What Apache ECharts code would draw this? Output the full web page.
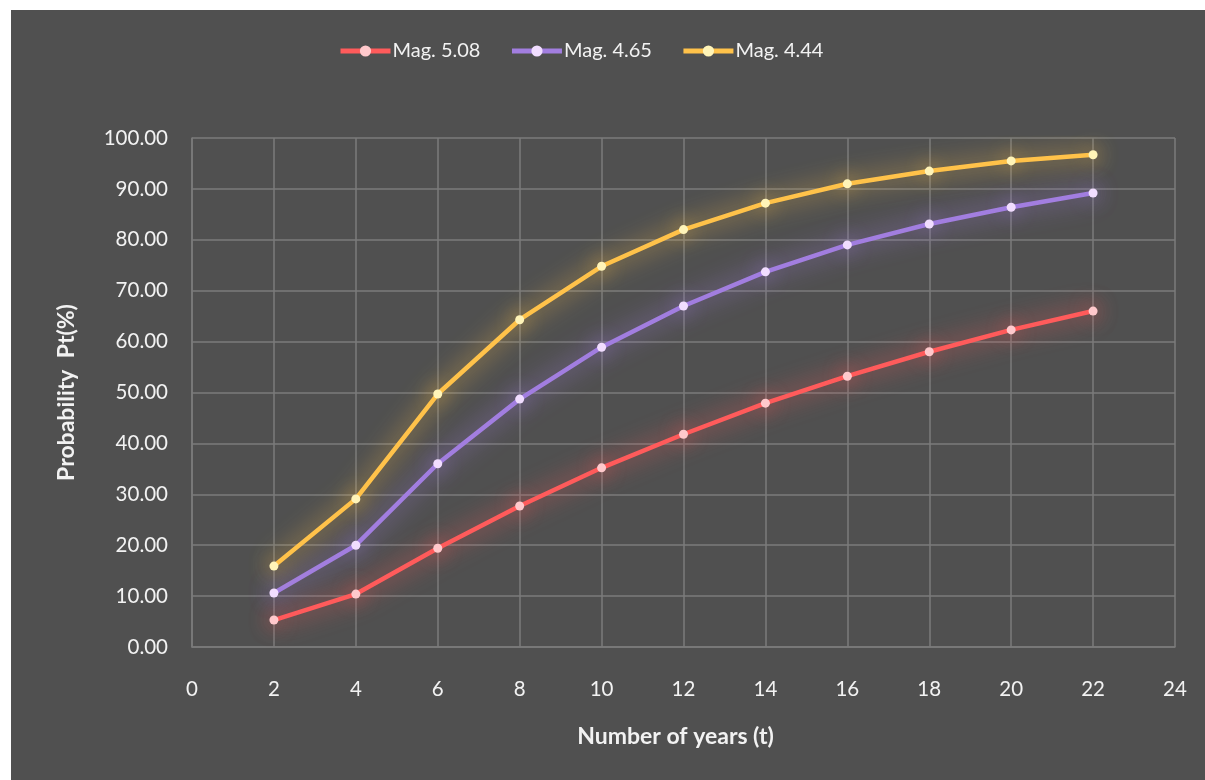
<!DOCTYPE html>
<html>
<head>
<meta charset="utf-8">
<script src="https://cdn.jsdelivr.net/npm/echarts@6/dist/echarts.min.js"></script>
<style>
  html, body { margin: 0; padding: 0; background: #ffffff; }
  #chart { position: absolute; left: 11px; top: 10px; width: 1194px; height: 770px; }
</style>
</head>
<body>
<div id="chart"></div>
<script>
// Years (t) at which each probability was computed
const years = [2, 4, 6, 8, 10, 12, 14, 16, 18, 20, 22];

// Probability Pt(%) per magnitude
const mag508 = [5.3, 10.4, 19.4, 27.7, 35.2, 41.8, 47.9, 53.2, 58.0, 62.3, 66.0];
const mag465 = [10.6, 20.0, 36.0, 48.7, 58.9, 67.0, 73.7, 79.0, 83.1, 86.4, 89.2];
const mag444 = [15.9, 29.1, 49.7, 64.3, 74.8, 82.0, 87.2, 91.0, 93.5, 95.5, 96.7];

const seriesNames = ['Mag. 5.08', 'Mag. 4.65', 'Mag. 4.44'];

const FONT = 'Lato, "Open Sans", sans-serif';
const TEXT = '#f2f2f2';
const GRID = '#7b7b7b';

function pairs(values) {
  return years.map((t, i) => [t, values[i]]);
}

function glowLine(name, values, lineColor, dotColor) {
  return {
    name: name,
    type: 'line',
    data: pairs(values),
    symbol: 'circle',
    symbolSize: 9,
    lineStyle: { color: lineColor, width: 4.5, shadowColor: lineColor, shadowBlur: 24 },
    itemStyle: { color: dotColor, borderWidth: 0, shadowColor: lineColor, shadowBlur: 20 },
    emphasis: { disabled: true },
    animation: false
  };
}

const chart = echarts.init(document.getElementById('chart'), null, { renderer: 'canvas' });
chart.setOption({
  backgroundColor: '#505050',
  textStyle: { fontFamily: FONT },
  legend: {
    top: 26,
    left: 322,
    itemWidth: 50,
    itemHeight: 14,
    itemGap: 29,
    lineStyle: { width: 5, shadowBlur: 0 },
    itemStyle: { shadowBlur: 0 },
    textStyle: { color: TEXT, fontSize: 20, fontFamily: FONT, padding: [0, 0, 0, -3] },
    data: seriesNames
  },
  grid: { left: 181, right: 30, top: 128, bottom: 133, containLabel: false },
  xAxis: {
    type: 'value',
    min: 0,
    max: 24,
    interval: 2,
    name: 'Number of years (t)',
    nameLocation: 'middle',
    nameGap: 78,
    nameTextStyle: { color: TEXT, fontSize: 23, fontWeight: 'bold', fontFamily: FONT,
      padding: [0, 16, 0, 0] },
    axisLine: { show: true, lineStyle: { color: GRID, width: 1.5 } },
    axisTick: { show: false },
    axisLabel: { color: TEXT, fontSize: 20.5, margin: 32, fontFamily: FONT },
    splitLine: { show: true, lineStyle: { color: GRID, width: 1.5 } }
  },
  yAxis: {
    type: 'value',
    min: 0,
    max: 100,
    interval: 10,
    name: 'Probability  Pt(%)',
    nameLocation: 'middle',
    nameGap: 114,
    nameTextStyle: { color: TEXT, fontSize: 23, fontWeight: 'bold', fontFamily: FONT },
    axisLine: { show: true, lineStyle: { color: GRID, width: 1.5 } },
    axisTick: { show: false },
    axisLabel: { color: TEXT, fontSize: 20.5, margin: 24, fontFamily: FONT,
      formatter: v => v.toFixed(2) },
    splitLine: { show: true, lineStyle: { color: GRID, width: 1.5 } }
  },
  series: [
    glowLine(seriesNames[0], mag508, '#ff5b5b', '#ffc9cc'),
    glowLine(seriesNames[1], mag465, '#a27ee0', '#f1ddff'),
    glowLine(seriesNames[2], mag444, '#ffc24a', '#fff4b8')
  ]
});
</script>
</body>
</html>
